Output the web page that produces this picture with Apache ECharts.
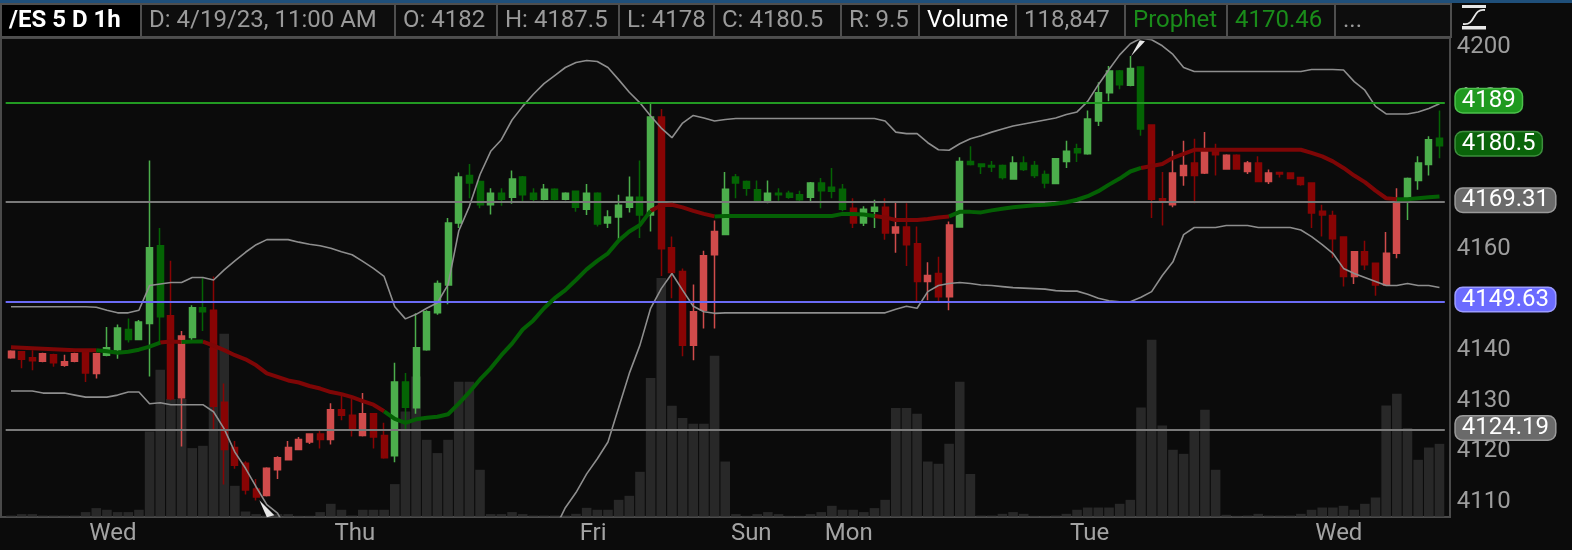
<!DOCTYPE html>
<html><head><meta charset="utf-8">
<script src="https://cdn.jsdelivr.net/npm/echarts@6/dist/echarts.min.js"></script>
<style>html,body{margin:0;padding:0;background:#0b0b0b;}#c{width:1572px;height:550px;}</style>
</head><body><div id="c"></div>
<script>
// ---------- DATA ----------
const FULL_DAY = [0,1,2,3,4,5,6,7,8,9,10,11,12,13,14,15,16,18,19,20,21,22,23];
const sessions = [
  ['Tue','4/11',[15,16,18,19,20,21,22,23]],
  ['Wed','4/12',FULL_DAY],
  ['Thu','4/13',FULL_DAY],
  ['Fri','4/14',[0,1,2,3,4,5,6,7,8,9,10,11,12,13,14,15,16]],
  ['Sun','4/16',[18,19,20,21,22,23]],
  ['Mon','4/17',FULL_DAY],
  ['Tue','4/18',FULL_DAY],
  ['Wed','4/19',[0,1,2,3,4,5,6,7,8,9,10,11]]
];
// [open, close, low, high]
const ohlc = [
[4138.5,4139.8,4138.3,4140.0],[4139.7,4138.2,4136.4,4139.8],[4138.5,4137.9,4136.0,4140.0],[4137.8,4139.3,4137.6,4139.5],[4139.1,4137.5,4136.7,4139.3],
[4137.0,4137.7,4136.7,4139.1],[4137.8,4139.3,4137.6,4139.5],[4139.7,4135.5,4133.7,4140.0],[4135.4,4139.3,4134.4,4139.5],[4139.0,4140.5,4138.8,4144.6],
[4140.1,4144.4,4138.3,4145.1],[4144.1,4142.1,4141.5,4146.3],[4142.1,4145.6,4142.0,4146.0],[4145.3,4160.3,4134.8,4177.6],[4160.7,4146.6,4141.5,4164.2],
[4146.8,4130.4,4130.1,4157.7],[4130.6,4142.8,4120.9,4143.8],[4142.5,4148.4,4142.0,4148.9],[4148.4,4147.6,4143.8,4154.4],[4147.9,4128.9,4124.4,4154.6],
[4129.7,4120.3,4113.4,4133.4],[4120.7,4117.2,4116.5,4122.0],[4117.6,4112.3,4111.4,4118.0],[4112.5,4110.9,4110.2,4114.5],[4111.2,4116.6,4111.0,4116.8],
[4116.3,4118.7,4114.5,4119.0],[4118.3,4120.7,4118.2,4122.0],[4120.3,4122.3,4120.2,4122.8],[4121.8,4123.4,4121.4,4123.5],[4123.4,4122.3,4120.5,4124.2],
[4122.3,4128.2,4121.3,4129.5],[4128.2,4127.1,4126.1,4130.9],[4127.1,4124.2,4122.9,4130.4],[4123.1,4127.4,4122.9,4131.5],[4127.4,4122.8,4120.5,4127.5],
[4123.1,4118.7,4118.5,4125.6],[4119.1,4133.7,4117.8,4137.5],[4133.7,4128.7,4124.4,4135.5],[4128.6,4140.5,4127.4,4147.3],[4140.1,4147.6,4139.9,4147.9],
[4147.4,4153.2,4147.0,4153.8],[4152.9,4165.2,4149.1,4166.2],[4165.2,4174.3,4164.2,4175.2],[4174.6,4173.1,4170.1,4176.9],[4173.4,4168.8,4168.1,4173.6],
[4168.8,4171.1,4166.9,4172.1],[4171.1,4169.9,4168.6,4172.1],[4170.3,4173.9,4169.0,4175.6],[4174.3,4170.8,4169.5,4174.5],[4171.1,4169.9,4169.5,4172.1],
[4169.9,4171.9,4169.7,4172.9],[4171.9,4169.9,4169.7,4172.1],[4169.9,4171.1,4169.7,4171.3],[4171.5,4168.3,4167.4,4171.6],[4167.9,4171.1,4166.8,4172.9],
[4171.1,4165.0,4164.5,4171.3],[4165.2,4166.4,4164.2,4167.7],[4166.4,4168.7,4162.0,4170.8],[4168.3,4170.3,4167.3,4174.4],[4170.3,4166.8,4162.2,4177.6],
[4166.8,4186.2,4163.5,4189.0],[4186.2,4160.1,4154.7,4187.8],[4160.3,4155.4,4150.3,4162.5],[4155.6,4141.0,4138.8,4156.2],[4141.0,4147.6,4138.0,4153.0],
[4147.9,4158.7,4144.3,4159.7],[4158.9,4163.5,4144.3,4165.7],[4162.9,4171.9,4162.8,4175.3],[4174.3,4173.1,4170.1,4174.9],[4173.4,4172.1,4170.6,4173.6],
[4171.8,4169.5,4169.3,4173.6],[4169.3,4171.1,4169.1,4173.6],[4171.1,4170.8,4169.6,4172.1],[4171.1,4170.3,4170.0,4171.6],[4170.8,4169.8,4169.5,4171.6],
[4170.3,4173.1,4169.5,4173.3],[4173.1,4171.6,4168.1,4174.1],[4172.3,4171.5,4170.1,4176.1],[4171.9,4167.9,4167.5,4172.9],[4168.1,4165.2,4164.2,4170.1],
[4165.2,4167.9,4164.6,4168.5],[4167.5,4168.3,4164.2,4169.8],[4168.3,4163.2,4161.9,4170.1],[4163.2,4164.4,4159.3,4169.3],[4164.4,4160.9,4156.7,4169.1],
[4161.1,4153.6,4149.6,4164.5],[4153.6,4154.8,4149.9,4157.4],[4155.2,4150.6,4149.6,4158.5],[4150.6,4164.8,4147.9,4165.5],[4164.4,4177.4,4164.3,4178.2],
[4177.4,4176.8,4176.6,4180.4],[4176.9,4176.4,4174.9,4177.0],[4176.6,4176.3,4175.3,4177.5],[4176.6,4174.2,4173.8,4176.8],[4173.9,4177.1,4173.8,4178.4],
[4177.1,4175.8,4175.5,4178.4],[4176.6,4174.6,4174.1,4177.5],[4174.8,4173.1,4172.1,4175.6],[4173.0,4177.9,4172.9,4178.0],[4177.4,4179.4,4176.1,4181.5],
[4179.9,4179.1,4177.3,4180.9],[4178.9,4185.8,4178.7,4187.5],[4185.4,4191.0,4184.4,4193.1],[4191.0,4195.3,4189.3,4196.3],[4195.3,4192.6,4191.7,4195.5],
[4192.5,4195.8,4192.3,4198.3],[4196.1,4183.8,4182.5,4196.2],[4184.6,4169.9,4166.2,4184.7],[4170.0,4169.6,4164.7,4175.3],[4168.8,4175.1,4168.3,4179.5],
[4174.6,4176.6,4172.6,4181.5],[4177.1,4174.6,4169.1,4181.9],[4175.1,4179.3,4174.9,4183.2],[4179.7,4178.7,4174.6,4180.9],[4175.9,4178.6,4175.8,4178.8],
[4178.6,4175.9,4175.8,4178.8],[4175.4,4177.1,4174.9,4177.5],[4177.1,4173.4,4173.3,4178.4],[4173.4,4175.1,4172.9,4175.8],[4175.2,4174.9,4174.2,4175.3],
[4175.1,4174.0,4173.9,4175.1],[4174.2,4172.8,4172.6,4174.3],[4173.1,4167.2,4164.2,4173.2],[4167.5,4166.8,4162.5,4168.8],[4166.7,4162.1,4158.3,4167.6],
[4162.4,4154.6,4152.6,4162.5],[4154.6,4159.5,4153.1,4159.6],[4159.5,4156.9,4155.9,4161.7],[4157.2,4152.9,4150.8,4157.3],[4152.9,4159.2,4152.8,4163.4],
[4159.2,4169.5,4158.2,4172.1],[4170.1,4174.0,4165.8,4174.2],[4173.6,4177.1,4171.8,4178.4],[4176.8,4181.7,4174.6,4182.4],[4182,4180.5,4178,4187.5]
];
const volume = [
1600,3900,3900,1600,1600,1600,1600,7200,13700,11000,
7200,7200,11000,139000,239900,191900,191900,111800,115600,275300,
298700,50200,8200,3900,1600,3900,3900,1100,1100,7200,
20800,11000,1600,11000,11000,11000,53000,171700,228900,125400,
103700,125400,220200,220200,76400,3900,3900,7200,3900,1600,
1600,1600,1600,4400,14200,11000,11000,27300,33800,73100,
226300,389800,181000,160900,151600,151600,262700,89900,3900,1100,
3900,7200,3900,1100,1100,3900,7200,17500,11000,11000,
7200,13700,27300,177200,177200,167900,89900,86200,118900,220200,
69500,1600,1600,4400,7200,4400,1100,1100,1600,4400,
11000,14700,14700,14700,20800,27300,178200,288900,148800,109100,
102500,141800,174500,76400,2800,1100,1600,4400,1600,1600,
1600,4400,11000,14700,14700,17500,11000,20800,31100,181500,
200600,144500,92700,112800,118847
];
const bbUpper = [
4148.6,4148.6,4148.6,4148.6,4148.6,4148.6,4148.6,4148.6,4148.5,4147.9,
4147.4,4147.4,4147.9,4152.8,4153.1,4153.4,4153.4,4154.4,4154.4,4153.9,
4155.9,4157.7,4159.4,4160.9,4161.9,4161.9,4161.9,4161.4,4161.0,4160.7,
4160.2,4159.5,4158.9,4157.6,4156.2,4154.6,4148.6,4146.2,4147.1,4148.3,
4149.4,4153.0,4163.6,4168.5,4174.8,4179.4,4181.7,4185.6,4188.3,4190.7,
4192.8,4194.4,4196.0,4197.0,4197.4,4197.2,4196.0,4193.6,4191.1,4189.0,
4186.4,4184.0,4182.1,4185.0,4186.5,4186.0,4185.4,4185.7,4185.9,4185.9,
4185.9,4185.9,4185.9,4185.9,4185.9,4185.9,4185.9,4185.9,4185.9,4185.9,
4185.9,4185.9,4185.4,4183.2,4182.9,4182.9,4181.1,4179.7,4179.6,4180.9,
4181.9,4182.5,4183.2,4183.8,4184.4,4184.8,4185.2,4185.6,4186.0,4186.7,
4187.2,4189.3,4192.6,4195.6,4198.5,4200.7,4201.8,4201.5,4200.3,4198.6,
4196.0,4195.2,4195.2,4195.2,4195.2,4195.2,4195.2,4195.2,4195.2,4195.2,
4195.2,4195.2,4195.6,4195.6,4195.6,4195.5,4193.2,4191.5,4188.3,4186.8,
4186.8,4186.8,4187.2,4187.9,4188.8
];
const bbLower = [
4131.9,4131.9,4131.9,4131.5,4131.5,4131.5,4131.1,4130.7,4130.7,4130.7,
4131.1,4131.7,4131.7,4129.4,4129.6,4129.2,4129.2,4129.2,4129.2,4127.8,
4124.4,4119.8,4116.6,4112.9,4109.4,4107.7,4104.0,null,null,null,
null,null,null,null,null,null,null,null,null,null,
null,null,null,null,null,null,null,null,null,null,
null,4104.5,4108.8,4111.8,4115.5,4118.5,4121.8,4128.6,4135.4,4141.0,
4148.3,4152.2,4155.2,4151.9,4148.7,4147.6,4147.3,4147.4,4147.4,4147.4,
4147.4,4147.4,4147.4,4147.4,4147.4,4147.4,4147.4,4147.4,4147.4,4147.4,
4147.4,4147.4,4147.4,4148.1,4148.7,4148.3,4151.6,4152.8,4153.2,4153.4,
4153.2,4152.9,4152.8,4152.6,4152.4,4152.3,4152.2,4152.1,4151.8,4151.7,
4151.7,4151.1,4150.3,4149.8,4149.6,4149.6,4150.5,4151.6,4154.8,4157.5,
4162.9,4164.3,4164.3,4164.3,4164.7,4164.7,4164.7,4164.3,4164.3,4164.3,
4164.3,4163.8,4162.5,4160.9,4159.2,4156.2,4155.2,4154.4,4153.6,4152.8,
4152.8,4153.2,4152.8,4152.8,4152.4
];
const prophet = [
4140.6,4140.5,4140.4,4140.3,4140.2,4140.1,4140.0,4140.0,4140.0,4139.8,
4139.5,4139.7,4140.1,4140.7,4141.5,4141.7,4141.6,4141.7,4141.7,4140.9,
4140.0,4139.0,4138.2,4137.0,4135.4,4134.7,4134.0,4133.6,4132.9,4132.4,
4131.7,4131.3,4130.7,4129.9,4129.2,4127.9,4126.4,4125.6,4126.3,4126.6,
4126.8,4127.3,4129.4,4131.7,4134.2,4136.4,4139.0,4141.3,4144.1,4145.9,
4148.3,4150.3,4151.9,4153.9,4156.0,4157.7,4159.2,4161.7,4163.5,4164.8,
4167.6,4168.7,4168.8,4168.3,4167.6,4167.0,4166.5,4166.6,4166.6,4166.6,
4166.6,4166.6,4166.6,4166.6,4166.6,4166.6,4166.6,4166.6,4167.0,4167.0,
4166.9,4166.6,4166.3,4165.8,4165.8,4165.8,4166.0,4166.3,4166.5,4167.4,
4167.4,4167.3,4167.7,4168.0,4168.3,4168.5,4168.7,4168.8,4169.0,4169.3,
4169.8,4170.5,4171.5,4172.8,4174.0,4175.4,4176.1,4176.5,4176.9,4178.1,
4178.9,4179.7,4179.7,4179.7,4179.7,4179.7,4179.7,4179.7,4179.7,4179.7,
4179.7,4179.7,4179.1,4178.4,4177.4,4176.1,4174.6,4173.3,4171.6,4170.1,
4169.9,4169.9,4170.1,4170.3,4170.46
];
// Prophet signal: 1 = bullish (green), -1 = bearish (red)
const signal = [
-1,-1,-1,-1,-1,-1,-1,-1,-1,1,
1,1,1,1,1,-1,-1,1,1,-1,
-1,-1,-1,-1,-1,-1,-1,-1,-1,-1,
-1,-1,-1,-1,-1,-1,1,1,1,1,
1,1,1,1,1,1,1,1,1,1,
1,1,1,1,1,1,1,1,1,1,
1,-1,-1,-1,-1,-1,-1,1,1,1,
1,1,1,1,1,1,1,1,1,-1,
1,1,-1,-1,-1,-1,-1,-1,-1,1,
1,1,1,1,1,1,1,1,1,1,
1,1,1,1,1,1,1,-1,-1,-1,
-1,-1,-1,-1,-1,-1,-1,-1,-1,-1,
-1,-1,-1,-1,-1,-1,-1,-1,-1,-1,
-1,1,1,1,1
];
const levelValues = [4189, 4169.31, 4149.63, 4124.19];
const levelKinds  = ['target', 'pivot', 'support', 'pivot'];
// band-off-screen markers: [bar index, which band]
const bandExitMarks = [[24, 'lower'], [106, 'upper']];
const symbolName = '/ES 5 D 1h';
const barDateLabel = 'D: 4/19/23, 11:00 AM';
const studyName = 'Prophet';

// ---------- BUILD ----------
const Y_MIN = 4107.05, Y_MAX = 4201.45;
const categories = [];
sessions.forEach(s => s[2].forEach(h => categories.push(s[0] + ' ' + s[1] + ' ' + String(h).padStart(2,'0') + ':00')));
const N = categories.length;
const dayOf = c => c.split(' ').slice(0,2).join(' ');
const isDayStart = i => i > 0 && dayOf(categories[i]) !== dayOf(categories[i-1]);

const COL = {LG:'#4cae4c', DG:'#046404', LR:'#d04b4b', DR:'#880404'};
const candleData = ohlc.map((d,i) => {
  const up = d[1] >= d[0];
  const c = signal[i] > 0 ? (up ? COL.LG : COL.DG) : (up ? COL.LR : COL.DR);
  return {value: d, itemStyle: {color: c, color0: c, borderColor: c, borderColor0: c}};
});
const maGreen = prophet.map((v,i) => (signal[i] > 0 || (i+1 < N && signal[i+1] > 0)) ? v : null);
const maRed   = prophet.map((v,i) => (signal[i] < 0 || (i+1 < N && signal[i+1] < 0)) ? v : null);

const LEVEL_STYLE = {
  target:  {line:'#229a22', bg:'#1f9a1f', border:'#4cc04c'},
  pivot:   {line:'#7a7a7a', bg:'#6a6a6a', border:'#9a9a9a'},
  support: {line:'#6b6bf5', bg:'#6b6bff', border:'#9c9cff'},
  last:    {line:'rgba(0,0,0,0)', bg:'#0a640a', border:'#3d8f3d'}
};
const last = ohlc[N-1];
const lastClose = last[1];
function boxLabel(text, st){
  return {show:true, position:'end', distance:11, formatter:text, color:'#ffffff',
    fontSize:24, fontFamily:'Roboto', backgroundColor:st.bg, borderColor:st.border,
    borderWidth:1.5, borderRadius:7, padding:[0,6,0,6], lineHeight:23, offset:[0,-2]};
}
const markData = levelValues.map((v,k) => {
  const st = LEVEL_STYLE[levelKinds[k]];
  return {yAxis:v, lineStyle:{color:st.line, width:2, type:'solid'}, label:boxLabel(String(v), st)};
});
markData.push({yAxis:lastClose, lineStyle:{color:LEVEL_STYLE.last.line, width:0}, label:boxLabel(String(lastClose), LEVEL_STYLE.last)});

const clampY = v => Math.min(Math.max(v, Y_MIN + 0.05), Y_MAX - 0.05);
const exitPoints = bandExitMarks.map(([i, band]) => band === 'lower'
  ? {coord:[i, clampY(bbLower[i])], symbol:'path://M0,0 L16,15 L8,17 Z', symbolSize:[15,17], symbolOffset:[0,4], itemStyle:{color:'rgba(255,255,255,0.9)'}}
  : {coord:[i, clampY(bbUpper[i])], symbol:'path://M0,16 L10,0 L16,1 Z', symbolSize:[14,16], symbolOffset:[-3,8], itemStyle:{color:'rgba(255,255,255,0.9)'}});

// header
const fmtNum = v => String(v);
const headerTexts = [
  {t:symbolName, c:'#ffffff', w:'bold', bg:'#000000'},
  {t:barDateLabel, c:'#9a9a9a'},
  {t:'O: ' + fmtNum(last[0]), c:'#9a9a9a'},
  {t:'H: ' + fmtNum(last[3]), c:'#9a9a9a'},
  {t:'L: ' + fmtNum(last[2]), c:'#9a9a9a'},
  {t:'C: ' + fmtNum(last[1]), c:'#9a9a9a'},
  {t:'R: ' + fmtNum(+(last[3]-last[2]).toFixed(2)), c:'#9a9a9a'},
  {t:'Volume', c:'#ffffff'},
  {t:volume[N-1].toLocaleString('en-US'), c:'#9a9a9a'},
  {t:studyName, c:'#1a8c1a'},
  {t:fmtNum(prophet[N-1]), c:'#1a8c1a'},
  {t:'...', c:'#9a9a9a'}
];
const cellEdges = [1,141,395,497,619,714,841,919,1016,1125,1227,1335,1451];
const graphics = [
  {type:'rect', shape:{x:0,y:0,width:1572,height:3}, style:{fill:'#1f4f7a'}, z:10},
];
headerTexts.forEach((h,k) => {
  const x0 = cellEdges[k], x1 = cellEdges[k+1];
  graphics.push({type:'rect', shape:{x:x0, y:4, width:x1-x0, height:33},
    style:{fill:h.bg || '#0d0d0d', stroke:'#4e4e4e', lineWidth:2}, z:10});
  graphics.push({type:'text', x:x0+8, y:21, z:11,
    style:{text:h.t, fill:h.c, font:(h.w||'normal') + ' 24px Roboto', textVerticalAlign:'middle', textAlign:'left'}});
});
// plot frame
graphics.push({type:'rect', shape:{x:1, y:38, width:1449, height:479}, style:{fill:null, stroke:'#4a4a4a', lineWidth:2}, z:1, silent:true});
// drawing-tool icon (top right)
graphics.push({type:'rect', shape:{x:1462,y:5,width:24,height:3}, style:{fill:'#e6e6e6'}, z:10});
graphics.push({type:'rect', shape:{x:1462,y:26,width:24,height:3.5}, style:{fill:'#e6e6e6'}, z:10});
graphics.push({type:'bezierCurve', shape:{x1:1463,y1:24,x2:1485,y2:10,cpx1:1476,cpy1:26,cpx2:1472,cpy2:8}, style:{stroke:'#e6e6e6', lineWidth:1.8, fill:null}, z:10});

const chart = echarts.init(document.getElementById('c'), null, {renderer:'canvas'});
chart.setOption({
  backgroundColor:'#0b0b0b',
  animation:false,
  graphic:graphics,
  grid:{left:5.67, right:127.2, top:40, bottom:33.5},
  xAxis:{type:'category', data:categories, boundaryGap:true,
    axisLine:{show:false}, axisTick:{show:false}, splitLine:{show:false},
    axisLabel:{interval:(i) => isDayStart(i),
      formatter:(v) => { const d = v.split(' ')[0]; return d === 'Sun' ? '{sun|' + d + '}' : '{d|' + d + '}'; },
      rich:{
        d:{color:'#a3a3a3', fontSize:24, fontFamily:'Roboto', padding:[0,0,0,-7]},
        sun:{color:'#a3a3a3', fontSize:24, fontFamily:'Roboto', padding:[0,0,0,-37]}
      },
      margin:5, align:'left'}},
  yAxis:[
    {type:'value', position:'right', min:Y_MIN, max:Y_MAX, splitNumber:9, scale:true,
      axisLine:{show:false}, axisTick:{show:false}, splitLine:{show:false}, z:0,
      axisLabel:{showMinLabel:false, showMaxLabel:false, formatter:(v) => String(v), color:'#9d9d9d', fontSize:24, fontFamily:'Roboto', margin:12, align:'left'}},
    {type:'value', min:0, max:779000, show:false}
  ],
  series:[
    {name:'Volume', type:'bar', yAxisIndex:1, data:volume, barWidth:'90%', itemStyle:{color:'#282828'}, z:1, silent:true},
    {name:'Upper', type:'line', data:bbUpper, symbol:'none', lineStyle:{color:'#8e8e8e', width:1.6}, z:4, silent:true,
      markLine:{symbol:'none', silent:true, data:markData, z:5},
      markPoint:{silent:true, data:exitPoints, label:{show:false}, z:7}},
    {name:'Lower', type:'line', data:bbLower, symbol:'none', connectNulls:false, lineStyle:{color:'#8e8e8e', width:1.6}, z:4, silent:true},
    {name:'ES', type:'candlestick', data:candleData, barWidth:6.5, itemStyle:{borderWidth:1.5}, z:3, silent:true},
    {name:'ProphetRed', type:'line', data:maRed, symbol:'none', connectNulls:false, lineStyle:{color:'#7e0606', width:4}, z:6, silent:true},
    {name:'ProphetGreen', type:'line', data:maGreen, symbol:'none', connectNulls:false, lineStyle:{color:'#046004', width:4}, z:6, silent:true}
  ]
});
</script></body></html>
